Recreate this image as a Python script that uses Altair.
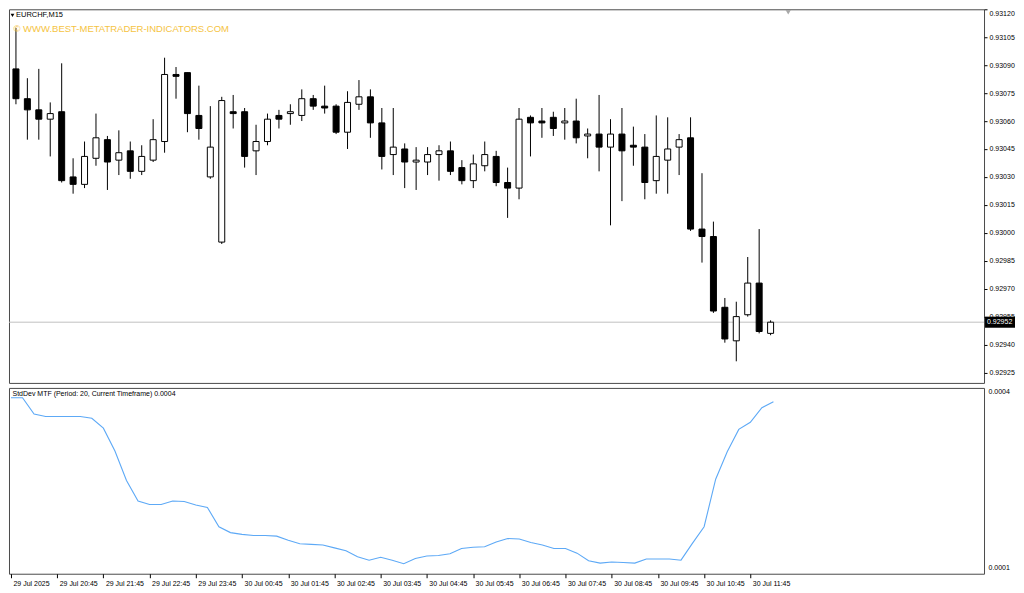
import json
import altair as alt
import pandas as pd

# ---------------- data ----------------
OPEN = [0.93088, 0.93072, 0.93066, 0.93061, 0.93065, 0.93030, 0.93026, 0.93040, 0.93050, 0.93039,
        0.93044, 0.93033, 0.93039, 0.93049, 0.93085, 0.93086, 0.93063, 0.93030, 0.92995, 0.93065,
        0.93065, 0.93044, 0.93049, 0.93063, 0.93064, 0.93063, 0.93072, 0.93068, 0.93068, 0.93054,
        0.93069, 0.93073, 0.93059, 0.93042, 0.93045, 0.93038, 0.93038, 0.93042, 0.93044, 0.93035,
        0.93028, 0.93036, 0.93041, 0.93027, 0.93024, 0.93062, 0.93060, 0.93062, 0.93059, 0.93060,
        0.93052, 0.93053, 0.93046, 0.93053, 0.93047, 0.93046, 0.93028, 0.93039, 0.93046, 0.93051,
        0.93002, 0.92998, 0.92960, 0.92942, 0.92956, 0.92973, 0.92946]
HIGH = [0.93110, 0.93083, 0.93088, 0.93070, 0.93091, 0.93040, 0.93049, 0.93064, 0.93052, 0.93055,
        0.93049, 0.93047, 0.93061, 0.93094, 0.93089, 0.93086, 0.93079, 0.93068, 0.93073, 0.93074,
        0.93067, 0.93058, 0.93064, 0.93066, 0.93069, 0.93077, 0.93074, 0.93079, 0.93069, 0.93076,
        0.93082, 0.93077, 0.93067, 0.93067, 0.93048, 0.93046, 0.93046, 0.93047, 0.93049, 0.93039,
        0.93042, 0.93049, 0.93044, 0.93035, 0.93067, 0.93063, 0.93067, 0.93065, 0.93067, 0.93072,
        0.93056, 0.93074, 0.93061, 0.93067, 0.93057, 0.93053, 0.93063, 0.93062, 0.93053, 0.93062,
        0.93032, 0.93006, 0.92965, 0.92963, 0.92987, 0.93002, 0.92953]
LOW = [0.93069, 0.93050, 0.93050, 0.93041, 0.93027, 0.93021, 0.93024, 0.93036, 0.93023, 0.93031,
       0.93029, 0.93031, 0.93038, 0.93043, 0.93072, 0.93054, 0.93050, 0.93029, 0.92994, 0.93056,
       0.93035, 0.93031, 0.93047, 0.93056, 0.93058, 0.93060, 0.93066, 0.93064, 0.93053, 0.93045,
       0.93066, 0.93051, 0.93034, 0.93031, 0.93024, 0.93023, 0.93031, 0.93028, 0.93031, 0.93026,
       0.93024, 0.93033, 0.93025, 0.93008, 0.93018, 0.93041, 0.93051, 0.93052, 0.93050, 0.93048,
       0.93040, 0.93033, 0.93004, 0.93017, 0.93036, 0.93018, 0.93021, 0.93021, 0.93031, 0.93001,
       0.92984, 0.92957, 0.92941, 0.92931, 0.92955, 0.92946, 0.92945]
CLOSE = [0.93072, 0.93066, 0.93061, 0.93064, 0.93028, 0.93026, 0.93041, 0.93051, 0.93038, 0.93043,
         0.93033, 0.93041, 0.93050, 0.93085, 0.93084, 0.93064, 0.93056, 0.93046, 0.93071, 0.93064,
         0.93041, 0.93049, 0.93061, 0.93061, 0.93065, 0.93072, 0.93068, 0.93067, 0.93054, 0.93070,
         0.93073, 0.93059, 0.93041, 0.93046, 0.93038, 0.93039, 0.93042, 0.93044, 0.93033, 0.93028,
         0.93037, 0.93042, 0.93027, 0.93024, 0.93061, 0.93059, 0.93059, 0.93056, 0.93060, 0.93051,
         0.93053, 0.93046, 0.93053, 0.93044, 0.93046, 0.93027, 0.93041, 0.93045, 0.93050, 0.93002,
         0.92998, 0.92958, 0.92943, 0.92955, 0.92973, 0.92947, 0.92952]
STDDEV = [0.000390, 0.000390, 0.000362, 0.000358, 0.000358, 0.000358, 0.000358, 0.000355, 0.000338, 0.000299,
          0.000249, 0.000214, 0.000208, 0.000208, 0.000214, 0.000213, 0.000207, 0.000203, 0.000170, 0.000160,
          0.000157, 0.000155, 0.000155, 0.000154, 0.000147, 0.000141, 0.000140, 0.000139, 0.000134, 0.000129,
          0.000119, 0.000113, 0.000118, 0.000113, 0.000107, 0.000116, 0.000120, 0.000121, 0.000124, 0.000133,
          0.000135, 0.000136, 0.000144, 0.000150, 0.000149, 0.000143, 0.000139, 0.000133, 0.000133, 0.000125,
          0.000112, 0.000108, 0.000110, 0.000109, 0.000108, 0.000115, 0.000115, 0.000115, 0.000113, 0.000142,
          0.000170, 0.000251, 0.000298, 0.000336, 0.000348, 0.000373, 0.000383]

TICK_BARS = [0, 4, 8, 12, 16, 20, 24, 28, 32, 36, 40, 44, 48, 52, 56, 60, 64]
TICK_LABELS = ["29 Jul 2025", "29 Jul 20:45", "29 Jul 21:45", "29 Jul 22:45", "29 Jul 23:45",
               "30 Jul 00:45", "30 Jul 01:45", "30 Jul 02:45", "30 Jul 03:45", "30 Jul 04:45",
               "30 Jul 05:45", "30 Jul 06:45", "30 Jul 07:45", "30 Jul 08:45", "30 Jul 09:45",
               "30 Jul 10:45", "30 Jul 11:45"]
PRICE_TICKS = [0.92925, 0.92940, 0.92955, 0.92970, 0.92985, 0.93000, 0.93015,
               0.93030, 0.93045, 0.93060, 0.93075, 0.93090, 0.93105, 0.93120]
STD_TICKS = [0.0001, 0.0004]
SYMBOL = "EURCHF,M15"
WATERMARK = "© WWW.BEST-METATRADER-INDICATORS.COM"
IND_TITLE = "StdDev MTF (Period: 20, Current Timeframe) 0.0004"

# ---------------- layout / style ----------------
FONT = "Liberation Sans"
W = 976
H1 = 374
H2 = 186
FRAME = "#4a4a4a"

n = len(OPEN)
df = pd.DataFrame({"i": list(range(n)), "open": OPEN, "high": HIGH, "low": LOW,
                   "close": CLOSE, "sd": STDDEV})
df["dir"] = ["up" if c > o else "down" for o, c in zip(OPEN, CLOSE)]

last = pd.DataFrame({"p": [CLOSE[-1]], "label": [f"{CLOSE[-1]:.5f}"]})

x_scale = alt.Scale(domain=[-0.17, 84.23], nice=False, zero=False)
y_price = alt.Scale(domain=[0.929194, 0.93120], nice=False, zero=False)
y_sd = alt.Scale(domain=[0.0000899, 0.0004067], nice=False, zero=False)

price_axis = alt.Axis(orient="right", values=PRICE_TICKS, format=".5f", tickSize=3,
                      tickColor="#000000", domain=False, grid=False, labelPadding=2,
                      labelFont=FONT, labelFontSize=7, labelColor="#000000",
                      labelFlush=True, labelOverlap=False, title=None)

label_expr = f"{json.dumps(TICK_LABELS)}[indexof({json.dumps(TICK_BARS)}, datum.value)]"
x_axis = alt.Axis(values=TICK_BARS, labelExpr=label_expr, labelAlign="left", labelOffset=2,
                  labelPadding=2, tickSize=4, tickColor="#000000", domain=False, grid=False,
                  labelFont=FONT, labelFontSize=7, labelColor="#000000", labelFlush=False,
                  labelOverlap=False, title=None)

sd_axis = alt.Axis(orient="right", values=STD_TICKS, format=".4f", ticks=False, domain=False,
                   grid=False, labelPadding=4, labelFont=FONT, labelFontSize=7,
                   labelColor="#000000", labelOverlap=False, title=None)

base = alt.Chart(df)

price_line = alt.Chart(last).mark_rule(color="#C0C0C0", strokeWidth=1).encode(
    y=alt.Y("p:Q", scale=y_price, axis=price_axis)
)

wicks = base.mark_rule(color="#000000", strokeWidth=1).encode(
    x=alt.X("i:Q", scale=x_scale, axis=None),
    y=alt.Y("low:Q", scale=y_price, axis=price_axis),
    y2="high:Q",
)

bodies = base.mark_bar(size=6, stroke="#000000", strokeWidth=1).encode(
    x=alt.X("i:Q", scale=x_scale, axis=None),
    y=alt.Y("open:Q", scale=y_price, axis=price_axis),
    y2="close:Q",
    fill=alt.Fill("dir:N", scale=alt.Scale(domain=["up", "down"], range=["#ffffff", "#000000"]),
                  legend=None),
)

tag_box = alt.Chart(last).mark_point(
    shape="M-1,-0.37L1,-0.37L1,0.37L-1,0.37Z", filled=True, color="#000000",
    size=900, opacity=1, strokeWidth=0
).encode(y=alt.Y("p:Q", scale=y_price, axis=price_axis), x=alt.value(W + 16))

tag_text = alt.Chart(last).mark_text(
    align="left", baseline="middle", color="#ffffff", font=FONT, fontSize=7
).encode(y=alt.Y("p:Q", scale=y_price, axis=price_axis), x=alt.value(W + 3), text="label:N")

info = pd.DataFrame({"sym": [SYMBOL], "wm": [WATERMARK], "ind": [IND_TITLE]})

sym_tri = alt.Chart(info).mark_point(shape="triangle-down", filled=True, color="#000000",
                                     size=14, opacity=1, strokeWidth=0).encode(
    x=alt.value(3.5), y=alt.value(6))
sym_text = alt.Chart(info).mark_text(align="left", baseline="middle", font=FONT, fontSize=7.5,
                                     color="#000000").encode(
    x=alt.value(7), y=alt.value(6), text="sym:N")
wm_text = alt.Chart(info).mark_text(align="left", baseline="middle", font=FONT, fontSize=9.5,
                                    color="#F5C342").encode(
    x=alt.value(4.5), y=alt.value(20), text="wm:N")
shift_tri = alt.Chart(info).mark_point(shape="triangle-down", filled=True, color="#A8A8A8",
                                       size=28, opacity=1, strokeWidth=0).encode(
    x=alt.value(780), y=alt.value(3))

upper = alt.layer(price_line, wicks, bodies, tag_box, tag_text,
                  sym_tri, sym_text, wm_text, shift_tri).properties(width=W, height=H1)

sd_line = base.mark_line(color="#5DA9F6", strokeWidth=1.1).encode(
    x=alt.X("i:Q", scale=x_scale, axis=x_axis),
    y=alt.Y("sd:Q", scale=y_sd, axis=sd_axis),
)
ind_text = alt.Chart(info).mark_text(align="left", baseline="middle", font=FONT, fontSize=7,
                                     color="#000000").encode(
    x=alt.value(3.5), y=alt.value(6.3), text="ind:N")

lower = alt.layer(sd_line, ind_text).properties(width=W, height=H2)

chart = alt.vconcat(upper, lower, spacing=3).properties(
    padding=0, background="#ffffff"
).configure_view(stroke=FRAME, strokeWidth=1)

chart.save("out.html", embed_options={"renderer": "svg", "actions": False})
